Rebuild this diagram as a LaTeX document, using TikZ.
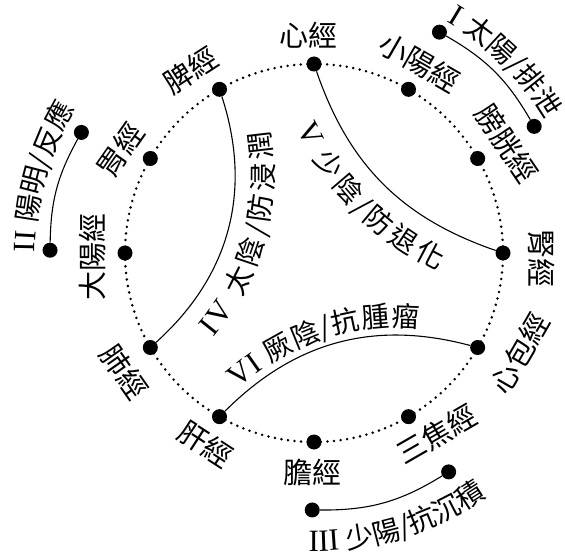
\documentclass[tikz,border=0pt]{standalone}
\usepackage{fontspec}
\setmainfont{Liberation Serif}
\newfontfamily\cjkfamily{Noto Sans CJK TC}
\usetikzlibrary{decorations.text}
\newcommand\cjkf{\cjkfamily\fontsize{29}{32}\selectfont}
\newcommand\cjka{\cjkfamily\fontsize{28}{31}\selectfont}
\newcommand\romf{\rmfamily\fontsize{31}{34}\selectfont}
\begin{document}
\begin{tikzpicture}[x=1pt,y=1pt,
  dot/.style={circle, fill=black, inner sep=0pt, minimum size=15pt},
  lab/.style={font=\cjkf, inner sep=0pt},
  conn/.style={line width=1.1pt},
  ring/.style={line width=2.8pt, dash pattern=on 0pt off 6.6pt, line cap=round}
]
\useasboundingbox (0,0) rectangle (565,558);
\begin{scope}[shift={(314,305)}]
\draw[ring] (0,0) circle[radius=189];
% meridian points
\node[dot] (xin) at (90:189) {};
\node[dot] (xiaochang) at (60:189) {};
\node[dot] (pangguang) at (30:189) {};
\node[dot] (shen) at (0:189) {};
\node[dot] (xinbao) at (-30:189) {};
\node[dot] (sanjiao) at (-60:189) {};
\node[dot] (dan) at (-90:189) {};
\node[dot] (gan) at (-120:189) {};
\node[dot] (fei) at (-150:189) {};
\node[dot] (dachang) at (180:189) {};
\node[dot] (wei) at (150:189) {};
\node[dot] (pi) at (120:189) {};
% meridian labels
\node[lab, rotate=0] (l-xin) at (91.5:218) {心經};
\node[lab, rotate=-30] (l-xiaochang) at (61:218) {小陽經};
\node[lab, rotate=-56] (l-pangguang) at (29.6:222) {膀胱經};
\node[lab, rotate=-90] (l-shen) at (-1.5:228) {腎經};
\node[lab, rotate=60] (l-xinbao) at (-26:229) {心包經};
\node[lab, rotate=30] (l-sanjiao) at (-56:219) {三焦經};
\node[lab, rotate=0] (l-dan) at (-90.5:220) {膽經};
\node[lab, rotate=-33] (l-gan) at (-119.5:220) {肝經};
\node[lab, rotate=-55] (l-fei) at (-148:224) {肺經};
\node[lab, rotate=90] (l-dachang) at (181:222) {大陽經};
\node[lab, rotate=55] (l-wei) at (152:219) {胃經};
\node[lab, rotate=33] (l-pi) at (124:220) {脾經};
% outer pair points
\node[dot] (ia) at (60.4:254) {};
\node[dot] (ib) at (29.9:254) {};
\node[dot] (iia) at (179.4:264) {};
\node[dot] (iib) at (152.6:262) {};
\node[dot] (iiia) at (-90.4:257) {};
\node[dot] (iiib) at (-58.4:257) {};
\draw[conn] (ia) to[bend left=15] (ib);
\draw[conn] (iia) to[bend left=14] (iib);
\draw[conn] (iiia) to[bend right=16] (iiib);
% outer labels
\path[decorate, decoration={text along path, text align=center,
  text={|\romf|I |\cjka|太陽/排泄}}]
  (75:267) arc[start angle=75, end angle=15, radius=267];
\path[decorate, decoration={text along path, text align=center,
  text={|\romf|II |\cjka|陽明/反應}}]
  (194.3:279) arc[start angle=194.3, end angle=134.3, radius=279];
\path[decorate, decoration={text along path, text align=center,
  text={|\romf|III |\cjka|少陽/抗沉積}}]
  (-112.8:298) arc[start angle=-112.8, end angle=-32.8, radius=298];
% inner connectors
\draw[conn] (pi) to[bend left=33] (fei);
\draw[conn] (xin) to[bend right=26] (shen);
\draw[conn] (gan) to[bend left=30] (xinbao);
\path[decorate, decoration={text along path, text align=center, raise=-38pt,
  text={|\romf|IV |\cjka|太陰/防浸潤}}]
  (fei) to[bend right=33] (pi);
\path[decorate, decoration={text along path, text align=center, raise=-40pt,
  text={|\romf|V |\cjka|少陰/防退化}}]
  (xin) to[bend right=26] (shen);
\path[decorate, decoration={text along path, text align={left, left indent=24pt}, raise=8pt,
  text={|\romf|VI |\cjka|厥陰/抗腫瘤}}]
  (gan) to[bend left=30] (xinbao);
\end{scope}
\end{tikzpicture}
\end{document}
